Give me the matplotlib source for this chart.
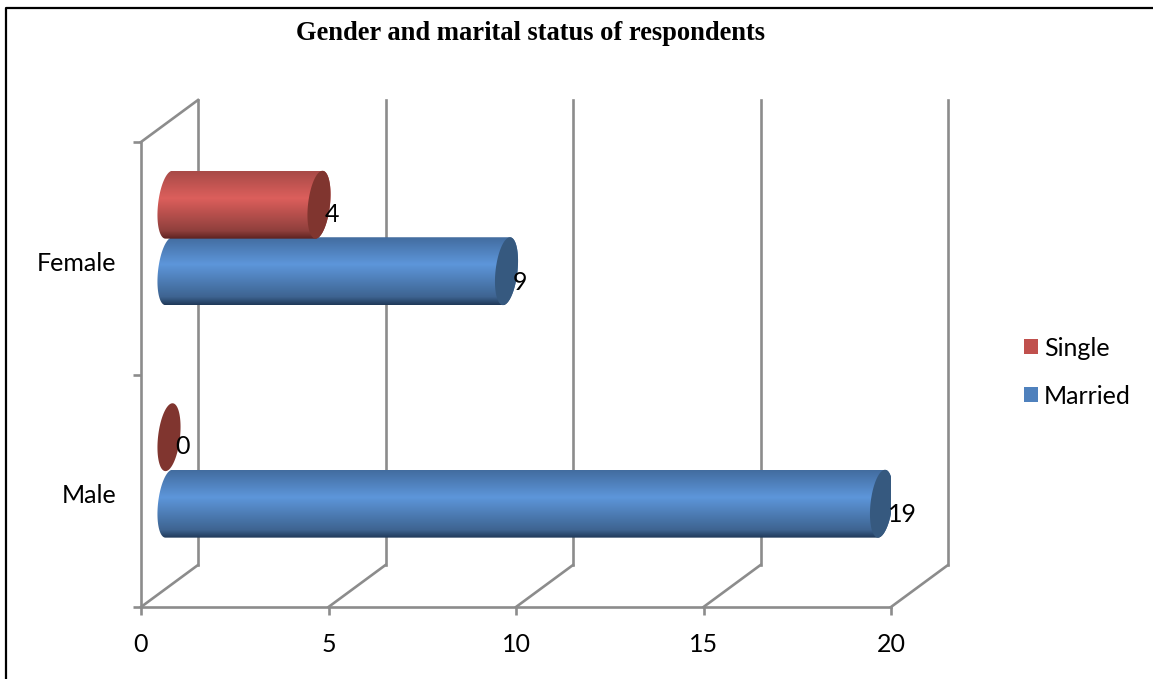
import numpy as np
import matplotlib
matplotlib.use("Agg")
import matplotlib.pyplot as plt
from matplotlib.colors import LinearSegmentedColormap
from matplotlib.lines import Line2D
from matplotlib.patches import Patch, PathPatch, Polygon
from matplotlib.path import Path
from matplotlib.transforms import Affine2D

categories = ["Male", "Female"]
single = [0, 4]
married = [19, 9]
series_names = ["Single", "Married"]
x_ticks = [0, 5, 10, 15, 20]

W, H = 1153, 679
GRAY = "#8c8c8c"
LW = 1.9
FONT = "Lato"
TEXT_SIZE = 18

fig = plt.figure(figsize=(W / 100, H / 100), dpi=100, facecolor="white")
ax = fig.add_axes([141 / W, 1 - 607 / H, 750 / W, 465 / H])
ax.set_xlim(0, 20)
ax.set_ylim(0, 2)
ax.patch.set_alpha(0)


def shifted(dx, dy):
    """Data transform pushed into the chart's depth by a pixel offset."""
    return ax.transData + Affine2D().translate(dx, dy)


BACK = shifted(57, 42)
MID = shifted(28, 21)

# Back wall and floor of the 3-D box
for v in x_ticks:
    ax.plot([v, v], [0, 2], color=GRAY, lw=LW, transform=BACK, clip_on=False, zorder=1)
    x0, y0 = ax.transData.transform((v, 0))
    ax.add_line(Line2D([x0, x0 + 57], [y0, y0 + 42], color=GRAY, lw=LW,
                       transform=None, clip_on=False, zorder=1))
x0, y0 = ax.transData.transform((0, 2))
ax.add_line(Line2D([x0, x0 + 57], [y0, y0 + 42], color=GRAY, lw=LW,
                   transform=None, clip_on=False, zorder=1))

BAR_H = 0.146   # half of a bar's thickness in category units
SINGLE_NUDGE = 0.006
HALF_CAP = 11   # cap half-width, pixels
SHEAR = 3.5     # horizontal lean of the cap, pixels top to centre


def cap_outline(value, yc, t):
    """Pixel outline of the elliptical section at the given value."""
    cx, cy = MID.transform((value, yc))
    _, top = MID.transform((value, yc + BAR_H))
    b = top - cy
    return np.column_stack([cx + HALF_CAP * np.cos(t) + SHEAR * np.sin(t),
                            cy + b * np.sin(t)])


def gradient_cmap(dark_bottom, mid_low, light, mid_top):
    return LinearSegmentedColormap.from_list(
        "cyl", [(0, dark_bottom), (0.12, mid_low), (0.6, light), (1, mid_top)])


RED = gradient_cmap("#5c2220", "#8f3f3c", "#dc5f5c", "#a84a47")
BLUE = gradient_cmap("#1f3858", "#3e6491", "#5d96da", "#426c9f")
RED_CAP = "#80352f"
BLUE_CAP = "#36597f"


def cylinder(value, yc, cmap, cap_color, z):
    t_outer = np.linspace(-np.pi / 2, np.pi / 2, 60)
    t_inner = np.linspace(np.pi / 2, 3 * np.pi / 2, 60)
    if value > 0:
        outline = np.vstack([cap_outline(0, yc, t_inner), cap_outline(value, yc, t_outer)])
        body = PathPatch(Path(np.vstack([outline, outline[:1]])), transform=None,
                         fc="none", ec="none", zorder=z)
        ax.add_patch(body)
        img = ax.imshow(np.linspace(1, 0, 256)[:, None], cmap=cmap, aspect="auto",
                        extent=(-1, value + 1, yc - BAR_H, yc + BAR_H),
                        transform=MID, zorder=z, clip_on=True)
        img.set_clip_path(body)
    ring = cap_outline(value, yc, np.linspace(0, 2 * np.pi, 120))
    ax.add_patch(Polygon(ring, closed=True, transform=None, fc=cap_color, ec="none",
                         zorder=z + 0.1))


# The red bars overlap the top edge of the blue ones
for i in (1, 0):
    yc = i + 0.5
    cylinder(married[i], yc - BAR_H, BLUE, BLUE_CAP, 3)
    cylinder(single[i], yc + BAR_H - SINGLE_NUDGE, RED, RED_CAP, 4)

ax.set_xlim(0, 20)
ax.set_ylim(0, 2)

# Value labels sitting on the bar ends
for i in range(len(categories)):
    yc = i + 0.5
    for value, y in ((single[i], yc + BAR_H), (married[i], yc - BAR_H)):
        cx, cy = MID.transform((value, y))
        fig.text((cx + 6) / W, (cy - 11) / H, str(value), ha="left", va="center",
                 fontsize=TEXT_SIZE, family=FONT, color="black", zorder=10)

# Axes, ticks and labels
for side in ("top", "right"):
    ax.spines[side].set_visible(False)
for side in ("left", "bottom"):
    ax.spines[side].set_color(GRAY)
    ax.spines[side].set_linewidth(LW)
ax.set_xticks(x_ticks)
ax.set_yticks([0, 1, 2])
ax.set_yticklabels([])
ax.set_yticks([0.5, 1.5], minor=True)
ax.set_yticklabels(categories, minor=True, fontsize=TEXT_SIZE, family=FONT)
ax.tick_params(axis="both", which="major", color=GRAY, width=LW, length=5.8)
ax.tick_params(axis="y", which="minor", length=0, pad=18)
ax.tick_params(axis="x", which="major", labelsize=TEXT_SIZE, pad=13)
for lab in ax.get_xticklabels():
    lab.set_family(FONT)
for lab in ax.get_yticklabels(minor=True):
    lab.set_transform(lab.get_transform() + Affine2D().translate(0, -3))

# Legend
ax.legend(handles=[Patch(fc="#c0504d", label=series_names[0]),
                   Patch(fc="#4f81bd", label=series_names[1])],
          loc="center left", bbox_to_anchor=(1024 / W, 1 - 372 / H),
          bbox_transform=fig.transFigure, frameon=False, handlelength=0.56,
          handleheight=0.56, handletextpad=0.24, labelspacing=1.0,
          prop={"family": FONT, "size": TEXT_SIZE}, borderpad=0, borderaxespad=0)

fig.text(530 / W, 1 - 33 / H, "Gender and marital status of respondents", ha="center",
         va="center", fontsize=19.1, fontweight="bold", family="Liberation Serif")

# Outer frame: left and top edges
fig.add_artist(Line2D([6 / W, 6 / W, 1], [0, 1 - 8 / H, 1 - 8 / H], color="black",
                      lw=1.6, transform=fig.transFigure))

fig.savefig("out.png", dpi=100)
